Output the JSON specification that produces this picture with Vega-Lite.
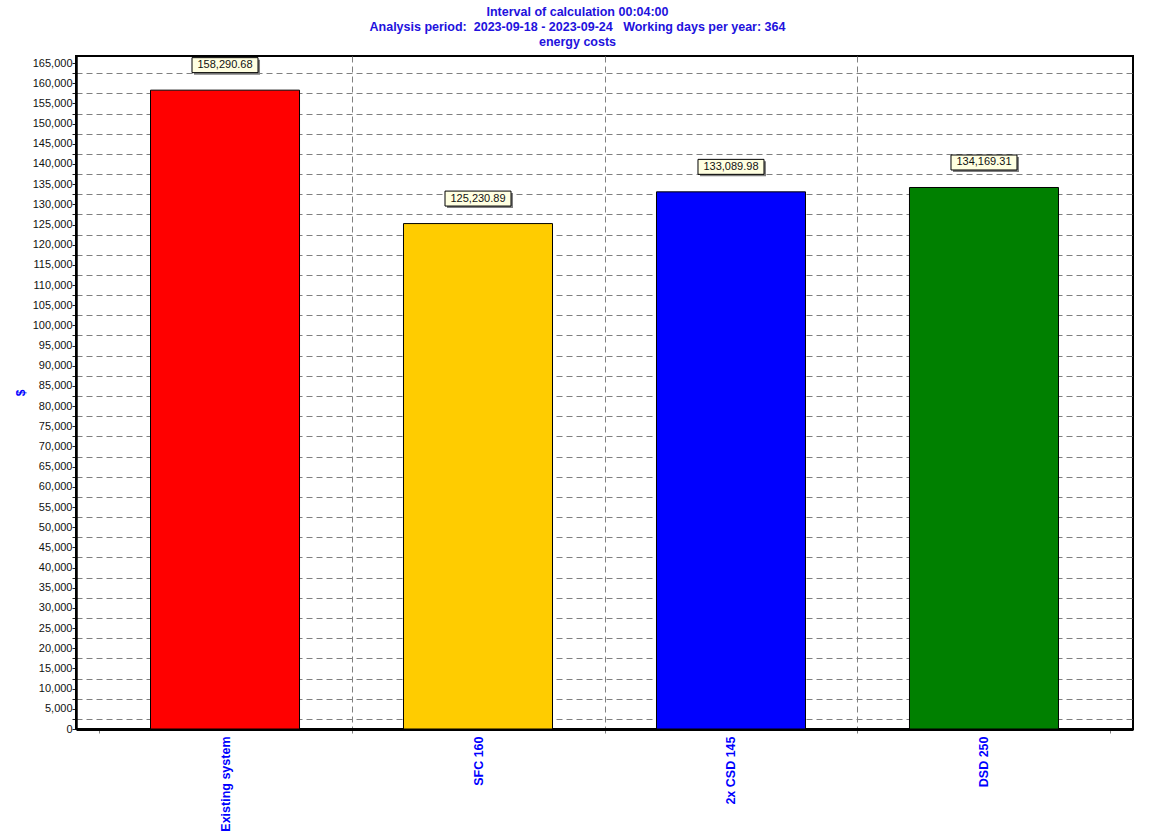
{
  "$schema": "https://vega.github.io/schema/vega-lite/v6.json",
  "width": 1057,
  "height": 673,
  "autosize": {"type": "none"},
  "padding": {"left": 76, "top": 56, "right": 33, "bottom": 109},
  "background": "white",
  "title": {
    "text": [
      "Interval of calculation 00:04:00",
      "Analysis period: \u00a02023-09-18 - 2023-09-24 \u00a0\u00a0Working days per year: 364",
      "energy costs"
    ],
    "color": "#2211dd",
    "font": "Liberation Sans",
    "fontSize": 12.5,
    "fontWeight": "bold",
    "lineHeight": 15,
    "anchor": "middle",
    "frame": "group",
    "dx": -27,
    "offset": 7
  },
  "config": {
    "view": {"stroke": "black", "strokeWidth": 2},
    "axis": {"labelFont": "Liberation Sans", "titleFont": "Liberation Sans"}
  },
  "data": {
    "values": [
      {"system": "Existing system", "cost": 158290.68},
      {"system": "SFC 160", "cost": 125230.89},
      {"system": "2x CSD 145", "cost": 133089.98},
      {"system": "DSD 250", "cost": 134169.31}
    ]
  },
  "encoding": {
    "x": {
      "field": "system",
      "type": "nominal",
      "sort": null,
      "title": null,
      "scale": {"paddingInner": 0, "paddingOuter": 0.089},
      "axis": {
        "labelAngle": -90,
        "labelColor": "#0000ff",
        "labelFontWeight": "bold",
        "labelFontSize": 12.5,
        "labelPadding": 3,
        "domainColor": "black",
        "domainWidth": 3,
        "tickBand": "extent",
        "tickColor": "#808080",
        "tickSize": 4,
        "grid": true,
        "gridColor": "#808080",
        "gridDash": [6, 4],
        "gridWidth": 1,
        "gridOpacity": {"condition": {"test": "datum.index < 0 || datum.value === 'DSD 250'", "value": 0}, "value": 1}
      }
    },
    "y": {
      "field": "cost",
      "type": "quantitative",
      "title": "$",
      "scale": {"domain": [0, 166750], "nice": false, "zero": true},
      "axis": {
        "values": [0, 2500, 5000, 7500, 10000, 12500, 15000, 17500, 20000, 22500, 25000, 27500, 30000, 32500, 35000, 37500, 40000, 42500, 45000, 47500, 50000, 52500, 55000, 57500, 60000, 62500, 65000, 67500, 70000, 72500, 75000, 77500, 80000, 82500, 85000, 87500, 90000, 92500, 95000, 97500, 100000, 102500, 105000, 107500, 110000, 112500, 115000, 117500, 120000, 122500, 125000, 127500, 130000, 132500, 135000, 137500, 140000, 142500, 145000, 147500, 150000, 152500, 155000, 157500, 160000, 162500, 165000],
        "labelExpr": "datum.value % 5000 === 0 ? format(datum.value, ',') : ''",
        "labelColor": "#111111",
        "labelFontSize": 11,
        "labelPadding": 0,
        "labelOverlap": false,
        "tickColor": "#222222",
        "tickSize": 4,
        "domainColor": "black",
        "domainWidth": 2.5,
        "titleColor": "#0000ff",
        "titleFontWeight": "bold",
        "titleFontSize": 12,
        "titlePadding": 5,
        "grid": true,
        "gridColor": "#808080",
        "gridDash": [6, 4],
        "gridWidth": 1,
        "gridOpacity": {"condition": {"test": "datum.value % 5000 === 0", "value": 0}, "value": 1}
      }
    }
  },
  "layer": [
    {
      "mark": {"type": "bar", "width": {"band": 0.589}, "stroke": "black", "strokeWidth": 1},
      "encoding": {
        "color": {
          "field": "system",
          "type": "nominal",
          "legend": null,
          "scale": {
            "domain": ["Existing system", "SFC 160", "2x CSD 145", "DSD 250"],
            "range": ["#ff0000", "#ffcc00", "#0000ff", "#008000"]
          }
        }
      }
    },
    {
      "mark": {
        "type": "point",
        "shape": "M-1,-0.227H1V0.227H-1Z",
        "size": 4356,
        "filled": true,
        "fill": "#808080",
        "strokeWidth": 0,
        "opacity": 1,
        "xOffset": 2,
        "yOffset": -23
      }
    },
    {
      "mark": {
        "type": "point",
        "shape": "M-1,-0.227H1V0.227H-1Z",
        "size": 4356,
        "filled": true,
        "fill": "#ffffe1",
        "stroke": "black",
        "strokeWidth": 1,
        "opacity": 1,
        "yOffset": -25
      }
    },
    {
      "mark": {
        "type": "text",
        "font": "Liberation Sans",
        "fontSize": 11,
        "color": "#111111",
        "baseline": "middle",
        "align": "center",
        "yOffset": -25
      },
      "encoding": {"text": {"field": "cost", "type": "quantitative", "format": ",.2f"}}
    }
  ]
}
